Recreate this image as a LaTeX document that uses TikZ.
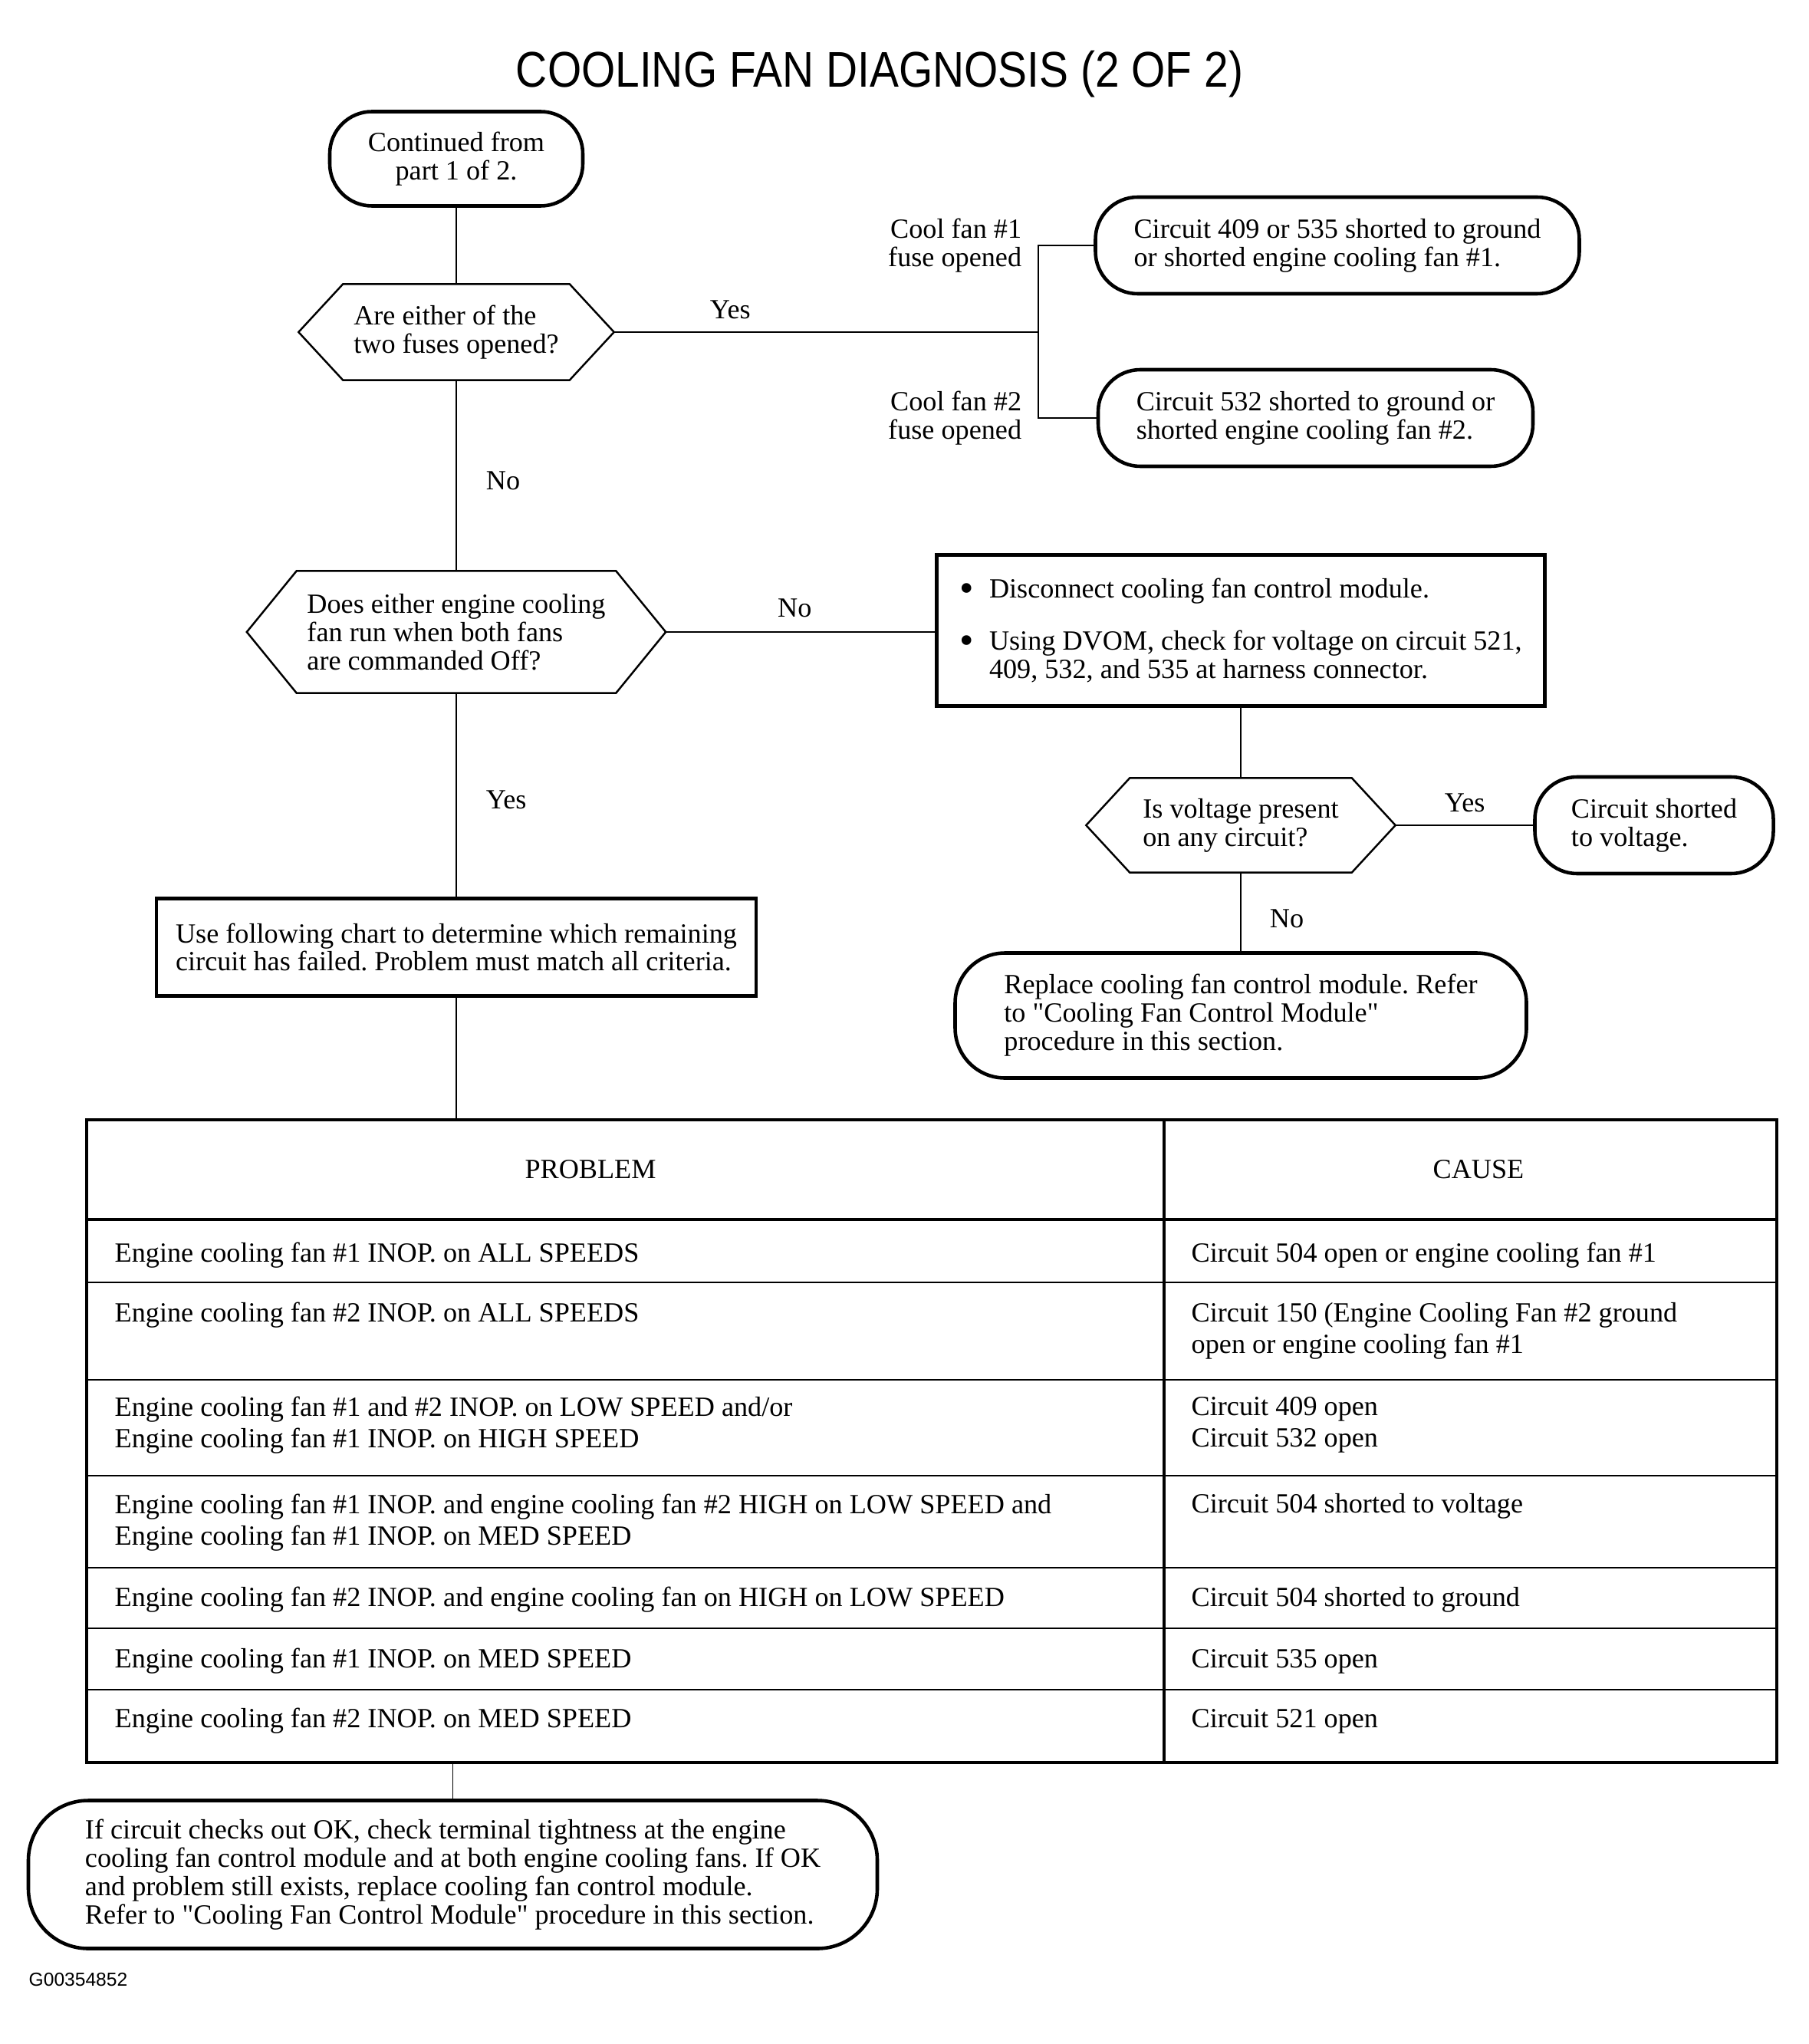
\documentclass[tikz,border=0pt]{standalone}
\usepackage{fontspec}
\setmainfont{Liberation Serif}
\newfontfamily\titlefont{Liberation Sans}[FakeStretch=0.87]
\newfontfamily\tagfont{Liberation Sans}
\usetikzlibrary{positioning}
\frenchspacing
\newcommand{\bodyfont}{\fontsize{10.3}{10.5}\selectfont}
\newcommand{\bulletmark}{\makebox[11pt][l]{\raisebox{-0.3ex}{\fontsize{15}{15}\selectfont\textbullet}}}
\tikzset{
every node/.style={font=\bodyfont}, % serif text everywhere
term/.style={draw, line width=1.3pt, rounded corners=0.55cm, align=left}, % rounded end boxes
hexa/.style={align=left, inner sep=0pt}, % decision text, outline drawn below
hexline/.style={line width=0.7pt}, % decision outline
actbox/.style={draw, line width=1.3pt, align=left}, % square action boxes
wire/.style={line width=0.5pt}, % connectors
lbl/.style={inner sep=0pt}, % Yes / No labels
cell/.style={anchor=west, align=left, inner sep=0pt, font=\fontsize{10.3}{11.6}\selectfont}, % table text
}

\begin{document}
\begin{tikzpicture}
    \useasboundingbox (0,0) rectangle (23.58,-26.65);
    \node[font=\titlefont\fontsize{18.6}{20}\selectfont] (title) at (11.47,-0.97) {COOLING FAN DIAGNOSIS (2 OF 2)};

    % flow chart
    \node[term, align=center, minimum width=3.30cm, minimum height=1.23cm] (start) at (5.95,-2.07) {Continued from\\part 1 of 2.};
    \node[hexa, minimum width=4.10cm, minimum height=1.24cm] (q1) at (5.95,-4.33) {Are either of the\\two fuses opened?};
    \node[term, minimum width=6.31cm, minimum height=1.26cm] (fan1) at (17.44,-3.20) {Circuit 409 or 535 shorted to ground\\or shorted engine cooling fan \#1.};
    \node[term, minimum width=5.67cm, minimum height=1.26cm] (fan2) at (17.155,-5.45) {Circuit 532 shorted to ground or\\shorted engine cooling fan \#2.};
    \node[hexa, minimum width=5.45cm, minimum height=1.58cm] (q2) at (5.95,-8.24) {Does either engine cooling\\fan run when both fans\\are commanded Off?};
    \node[actbox, minimum width=7.93cm, minimum height=1.97cm] (check) at (16.18,-8.22) {\bulletmark Disconnect cooling fan control module.\\[9pt]
      \bulletmark Using DVOM, check for voltage on circuit 521,\\\hspace*{11pt}409, 532, and 535 at harness connector.};
    \node[hexa, minimum width=4.02cm, minimum height=1.22cm] (q3) at (16.18,-10.76) {Is voltage present\\on any circuit?};
    \node[term, minimum width=3.11cm, minimum height=1.26cm] (short) at (21.57,-10.76) {Circuit shorted\\to voltage.};
    \node[term, rounded corners=0.65cm, minimum width=7.45cm, minimum height=1.63cm] (replace) at (16.18,-13.24) {Replace cooling fan control module. Refer\\to \textquotedbl Cooling Fan Control Module\textquotedbl\\procedure in this section.};
    \node[actbox, minimum width=7.82cm, minimum height=1.27cm] (chart) at (5.95,-12.35) {Use following chart to determine which remaining\\circuit has failed. Problem must match all criteria.};

    \foreach \n/\c in {q1/0.58, q2/0.65, q3/0.57}
      \draw[hexline] (\n.west) -- ([xshift=\c cm]\n.north west) -- ([xshift=-\c cm]\n.north east)
        -- (\n.east) -- ([xshift=-\c cm]\n.south east) -- ([xshift=\c cm]\n.south west) -- cycle;

    \coordinate (j) at (13.54,-4.33);
    \draw[wire] (start) -- (q1);
    \draw[wire] (q1.east) -- node[lbl, pos=0.274, above=0.16cm] {Yes} (j);
    \draw[wire] (j) |- node[lbl, pos=0.5, left=0.21cm, align=right] {Cool fan \#1\\fuse opened} (fan1.west);
    \draw[wire] (j) |- node[lbl, pos=0.5, left=0.21cm, align=right] {Cool fan \#2\\fuse opened} (fan2.west);
    \draw[wire] (q1) -- node[lbl, pos=0.528, right=0.38cm] {No} (q2);
    \draw[wire] (q2.east) -- node[lbl, pos=0.479, above=0.18cm] {No} (q2.east -| check.west);
    \draw[wire] (check) -- (q3);
    \draw[wire] (q3) -- node[lbl, pos=0.504, above=0.16cm] {Yes} (short);
    \draw[wire] (q3) -- node[lbl, pos=0.588, right=0.37cm] {No} (replace);
    \draw[wire] (q2) -- node[lbl, pos=0.525, right=0.38cm] {Yes} (chart);

    % table
    \node[draw, line width=1.3pt, inner sep=0pt, minimum width=22.04cm, minimum height=8.38cm] (tab) at (12.15,-18.79) {};
    \draw[line width=1pt] (15.18,-14.60) -- (15.18,-22.98);
    \draw[line width=1.1pt] (1.13,-15.90) -- (23.17,-15.90);
    \foreach \y in {16.72,17.99,19.24,20.44,21.23,22.03}
      \draw[line width=0.6pt] (1.13,-\y) -- (23.17,-\y);
    \node (hprob) at (7.70,-15.25) {PROBLEM};
    \node (hcause) at (19.28,-15.25) {CAUSE};
    \node[cell] (p1) at (1.49,-16.37) {Engine cooling fan \#1 INOP. on ALL SPEEDS};
    \node[cell] (c1) at (15.53,-16.37) {Circuit 504 open or engine cooling fan \#1};
    \node[cell] (p2) at (1.49,-17.15) {Engine cooling fan \#2 INOP. on ALL SPEEDS};
    \node[cell] (c2) at (15.53,-17.35) {Circuit 150 (Engine Cooling Fan \#2 ground\\open or engine cooling fan \#1};
    \node[cell] (p3) at (1.49,-18.58) {Engine cooling fan \#1 and \#2 INOP. on LOW SPEED and/or\\Engine cooling fan \#1 INOP. on HIGH SPEED};
    \node[cell] (c3) at (15.53,-18.58) {Circuit 409 open\\Circuit 532 open};
    \node[cell] (p4) at (1.49,-19.85) {Engine cooling fan \#1 INOP. and engine cooling fan \#2 HIGH on LOW SPEED and\\Engine cooling fan \#1 INOP. on MED SPEED};
    \node[cell] (c4) at (15.53,-19.64) {Circuit 504 shorted to voltage};
    \node[cell] (p5) at (1.49,-20.86) {Engine cooling fan \#2 INOP. and engine cooling fan on HIGH on LOW SPEED};
    \node[cell] (c5) at (15.53,-20.86) {Circuit 504 shorted to ground};
    \node[cell] (p6) at (1.49,-21.66) {Engine cooling fan \#1 INOP. on MED SPEED};
    \node[cell] (c6) at (15.53,-21.66) {Circuit 535 open};
    \node[cell] (p7) at (1.49,-22.44) {Engine cooling fan \#2 INOP. on MED SPEED};
    \node[cell] (c7) at (15.53,-22.44) {Circuit 521 open};
    \draw[wire] (chart) -- (chart.south |- tab.north);

    \node[term, rounded corners=0.78cm, minimum width=11.07cm, minimum height=1.93cm] (final) at (5.905,-24.44) {If circuit checks out OK, check terminal tightness at the engine\\cooling fan control module and at both engine cooling fans. If OK\\and problem still exists, replace cooling fan control module.\\Refer to \textquotedbl Cooling Fan Control Module\textquotedbl{} procedure in this section.};
    \draw[wire] (final.north |- tab.south) -- (final);
    \node[font=\tagfont\fontsize{7}{8}\selectfont, anchor=west, inner sep=0pt] (tag) at (0.37,-25.81) {G00354852};
\end{tikzpicture}
\end{document}
